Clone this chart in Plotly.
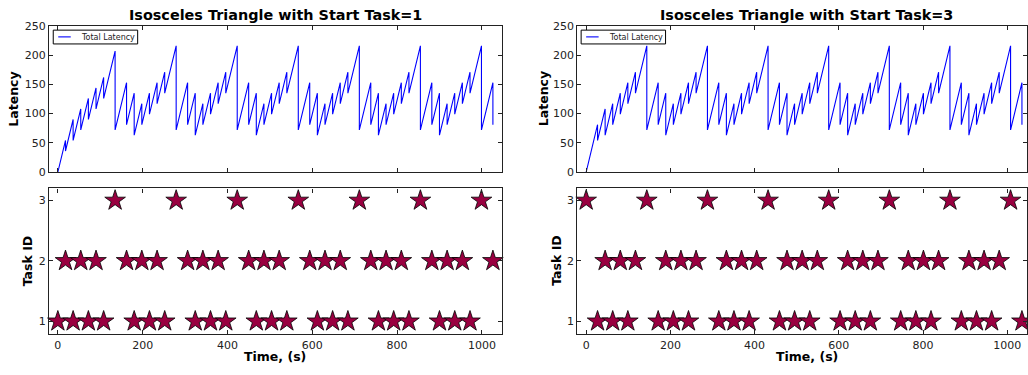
import plotly.graph_objects as go

# ---------------- data ----------------
# Start Task = 1 : event times, latency just before and just after each event
left_evt_t = [0, 18, 36, 54, 72, 90, 108, 135,
              162, 180, 198, 216, 234, 252, 279,
              306, 324, 342, 360, 378, 396, 423,
              450, 468, 486, 504, 522, 540, 567,
              594, 612, 630, 648, 666, 684, 711,
              738, 756, 774, 792, 810, 828, 855,
              882, 900, 918, 936, 954, 972, 999,
              1026]
left_peak = [0, 54, 90, 108, 126, 144, 162, 207,
             153, 135, 117, 135, 153, 171, 216,
             153, 135, 117, 135, 153, 171, 216,
             153, 135, 117, 135, 153, 171, 216,
             153, 135, 117, 135, 153, 171, 216,
             153, 135, 117, 135, 153, 171, 216,
             153, 135, 117, 135, 153, 171, 216,
             153]
left_trough = [0, 36, 54, 72, 90, 108, 126, 72,
               81, 63, 81, 99, 117, 135, 72,
               81, 63, 81, 99, 117, 135, 72,
               81, 63, 81, 99, 117, 135, 72,
               81, 63, 81, 99, 117, 135, 72,
               81, 63, 81, 99, 117, 135, 72,
               81, 63, 81, 99, 117, 135, 72,
               81]

# Start Task = 3
right_evt_t = [0, 27, 45, 63, 81, 99, 117, 144,
               171, 189, 207, 225, 243, 261, 288,
               315, 333, 351, 369, 387, 405, 432,
               459, 477, 495, 513, 531, 549, 576,
               603, 621, 639, 657, 675, 693, 720,
               747, 765, 783, 801, 819, 837, 864,
               891, 909, 927, 945, 963, 981, 1008,
               1035]
right_peak = [0, 81, 108, 117, 135, 153, 171, 216,
              153, 135, 117, 135, 153, 171, 216,
              153, 135, 117, 135, 153, 171, 216,
              153, 135, 117, 135, 153, 171, 216,
              153, 135, 117, 135, 153, 171, 216,
              153, 135, 117, 135, 153, 171, 216,
              153, 135, 117, 135, 153, 171, 216,
              153]
right_trough = [0, 54, 63, 81, 99, 117, 135, 72,
                81, 63, 81, 99, 117, 135, 72,
                81, 63, 81, 99, 117, 135, 72,
                81, 63, 81, 99, 117, 135, 72,
                81, 63, 81, 99, 117, 135, 72,
                81, 63, 81, 99, 117, 135, 72,
                81, 63, 81, 99, 117, 135, 72,
                81]

# Task execution times
left_task1 = [0, 36, 72, 108, 180, 216, 252, 324, 360, 396, 468, 504, 540,
              612, 648, 684, 756, 792, 828, 900, 936, 972]
left_task2 = [18, 54, 90, 162, 198, 234, 306, 342, 378, 450, 486, 522,
              594, 630, 666, 738, 774, 810, 882, 918, 954, 1026]
left_task3 = [135, 279, 423, 567, 711, 855, 999]

right_task1 = [27, 63, 99, 171, 207, 243, 315, 351, 387, 459, 495, 531,
               603, 639, 675, 747, 783, 819, 891, 927, 963, 1035]
right_task2 = [45, 81, 117, 189, 225, 261, 333, 369, 405, 477, 513, 549,
               621, 657, 693, 765, 801, 837, 909, 945, 981]
right_task3 = [0, 144, 288, 432, 576, 720, 864, 1008]

titles = ["Isosceles Triangle with Start Task=1", "Isosceles Triangle with Start Task=3"]
legend_label = "Total Latency"
x_ticks = [0, 200, 400, 600, 800, 1000]
lat_ticks = [0, 50, 100, 150, 200, 250]
task_ticks = [1, 2, 3]

# ---------------- layout helpers ----------------
W, H = 1028, 375
FONT = "DejaVu Sans"
STAR_COLOR = "#990040"
LINE_COLOR = "#0000ff"


def px_x(p):
    return p / W


def px_y(p):
    return 1 - p / H


def polyline(ts, peaks, troughs):
    xs, ys = [], []
    for t, p, tr in zip(ts, peaks, troughs):
        xs += [t, t]
        ys += [p, tr]
    return xs, ys


fig = go.Figure()
lx, ly = polyline(left_evt_t, left_peak, left_trough)
rx, ry = polyline(right_evt_t, right_peak, right_trough)

fig.add_trace(go.Scatter(x=lx, y=ly, mode="lines", name=legend_label,
                         line=dict(color=LINE_COLOR, width=1.1), xaxis="x", yaxis="y"))
fig.add_trace(go.Scatter(x=rx, y=ry, mode="lines", name=legend_label,
                         line=dict(color=LINE_COLOR, width=1.1), xaxis="x2", yaxis="y2"))

star = dict(symbol="star", size=15.5, color=STAR_COLOR, line=dict(color="black", width=0.8))
for tasks, tid in [(left_task1, 1), (left_task2, 2), (left_task3, 3)]:
    fig.add_trace(go.Scatter(x=tasks, y=[tid] * len(tasks), mode="markers", marker=star,
                             name="Task %d" % tid, xaxis="x3", yaxis="y3", cliponaxis=False))
for tasks, tid in [(right_task1, 1), (right_task2, 2), (right_task3, 3)]:
    fig.add_trace(go.Scatter(x=tasks, y=[tid] * len(tasks), mode="markers", marker=star,
                             name="Task %d" % tid, xaxis="x4", yaxis="y4", cliponaxis=False))

left_dom = [px_x(49), px_x(502.3)]
right_dom = [px_x(577.9), 1.0]
top_dom = [px_y(172), px_y(20.7)]
bot_dom = [px_y(340), px_y(189)]
XR = [-21, 1047]

axis_common = dict(showline=True, linecolor="#222", linewidth=1.2, mirror="ticks",
                   ticks="inside", ticklen=4, tickwidth=1, tickcolor="#222",
                   showgrid=False, zeroline=False,
                   tickfont=dict(family=FONT, size=11, color="#222"))

fig.update_layout(
    width=W, height=H, margin=dict(l=0, r=0, t=0, b=0),
    paper_bgcolor="white", plot_bgcolor="white", showlegend=False,
    xaxis=dict(domain=left_dom, range=XR, anchor="y", tickvals=x_ticks,
               showticklabels=False, **axis_common),
    yaxis=dict(domain=top_dom, range=[0, 250], anchor="x", tickvals=lat_ticks, **axis_common),
    xaxis2=dict(domain=right_dom, range=XR, anchor="y2", tickvals=x_ticks,
                showticklabels=False, **axis_common),
    yaxis2=dict(domain=top_dom, range=[0, 250], anchor="x2", tickvals=lat_ticks, **axis_common),
    xaxis3=dict(domain=left_dom, range=XR, anchor="y3", tickvals=x_ticks, **axis_common),
    yaxis3=dict(domain=bot_dom, range=[0.787, 3.2], anchor="x3", tickvals=task_ticks, **axis_common),
    xaxis4=dict(domain=right_dom, range=XR, anchor="y4", tickvals=x_ticks, **axis_common),
    yaxis4=dict(domain=bot_dom, range=[0.787, 3.2], anchor="x4", tickvals=task_ticks, **axis_common),
)

ann = []
shapes = []
for cx, t in [((49 + 502.3) / 2, titles[0]), ((577.9 + 1037) / 2, titles[1])]:
    ann.append(dict(x=px_x(cx), y=px_y(9), xref="paper", yref="paper", text="<b>%s</b>" % t,
                    showarrow=False, xanchor="center", yanchor="middle",
                    font=dict(family=FONT, size=14.4, color="black")))
    ann.append(dict(x=px_x(cx), y=px_y(363), xref="paper", yref="paper", text="<b>Time, (s)</b>",
                    showarrow=False, xanchor="center", yanchor="middle",
                    font=dict(family=FONT, size=12.5, color="black")))
for off in [0, 530]:
    ann.append(dict(x=px_x(14 + off), y=px_y(96), xref="paper", yref="paper", text="<b>Latency</b>",
                    textangle=-90, showarrow=False, xanchor="center", yanchor="middle",
                    font=dict(family=FONT, size=12.5, color="black")))
    ann.append(dict(x=px_x(27.5 + off), y=px_y(264), xref="paper", yref="paper", text="<b>Task ID</b>",
                    textangle=-90, showarrow=False, xanchor="center", yanchor="middle",
                    font=dict(family=FONT, size=12.5, color="black")))

# legend boxes (drawn in paper space)
for bx in [53.3, 581.7]:
    shapes.append(dict(type="rect", xref="paper", yref="paper",
                       x0=px_x(bx), x1=px_x(bx + 84.5), y0=px_y(39.3), y1=px_y(25),
                       line=dict(color="black", width=1), fillcolor="white", layer="above"))
    shapes.append(dict(type="line", xref="paper", yref="paper",
                       x0=px_x(bx + 5), x1=px_x(bx + 17.5), y0=px_y(32), y1=px_y(32),
                       line=dict(color=LINE_COLOR, width=1.1), layer="above"))
    ann.append(dict(x=px_x(bx + 25.5), y=px_y(32.2), xref="paper", yref="paper", text=legend_label,
                    showarrow=False, xanchor="left", yanchor="middle",
                    font=dict(family=FONT, size=8, color="#222")))

fig.update_layout(annotations=ann, shapes=shapes)
fig.write_html("out.html")
